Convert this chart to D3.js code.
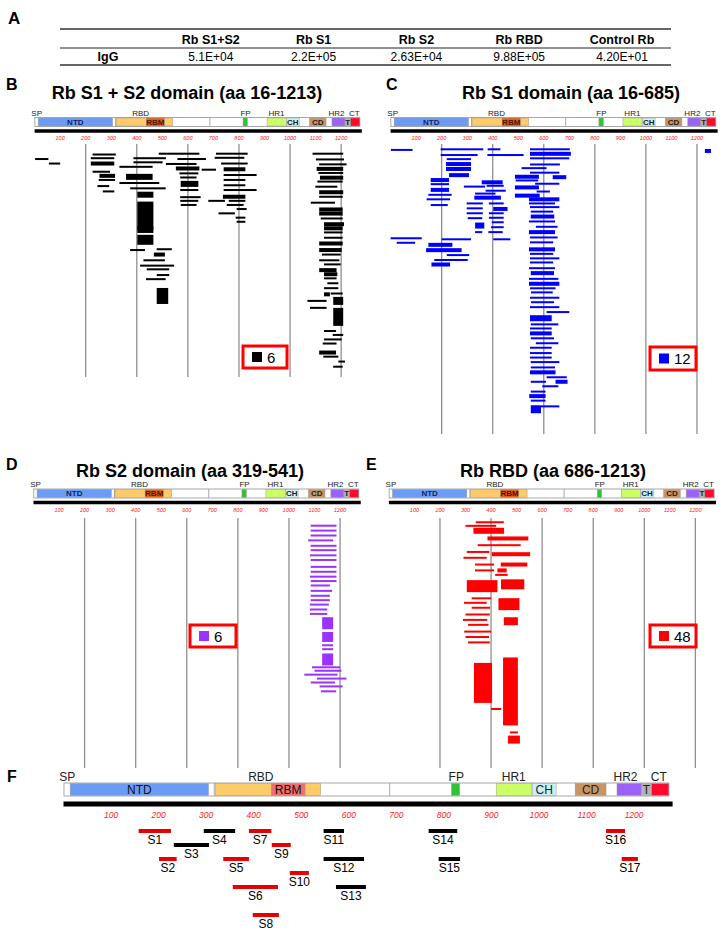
<!DOCTYPE html>
<html><head><meta charset="utf-8">
<script src="https://cdn.jsdelivr.net/npm/d3@7"></script>
<style>body{margin:0;background:#fff}svg{display:block;font-family:"Liberation Sans",Arial,Helvetica,sans-serif}</style>
</head><body><svg id="c" width="721" height="931"></svg>
<script>
// ---------------- DATA ----------------
const tableCols = ["Rb S1+S2", "Rb S1", "Rb S2", "Rb RBD", "Control Rb"];
const tableRowLabel = "IgG";
const tableValues = ["5.1E+04", "2.2E+05", "2.63E+04", "9.88E+05", "4.20E+01"];

const proteinLength = 1273;
const domainNames = ["NTD", "RBD", "RBM", "FP", "HR1", "CH", "CD", "HR2", "T", "CT"];
const domainStart = [14, 319, 437, 816, 910, 986, 1076, 1164, 1215, 1237];
const domainEnd   = [305, 541, 508, 833, 985, 1036, 1141, 1215, 1237, 1273];
const domainInnerText = ["NTD", "", "RBM", "", "", "CH", "CD", "", "T", ""];
const topLabels = ["SP", "RBD", "FP", "HR1", "HR2", "CT"];
const topLabelAa = [8, 415, 826, 947, 1182, 1252];
const tickValues = [100, 200, 300, 400, 500, 600, 700, 800, 900, 1000, 1100, 1200];
const gridValues = [200, 400, 600, 800, 1000, 1200];

const panelTitles = ["Rb S1 + S2 domain (aa 16-1213)", "Rb S1 domain (aa 16-685)", "Rb S2 domain (aa 319-541)", "Rb RBD (aa 686-1213)"];
const legendCounts = [6, 12, 6, 48];

// peptides: [start aa, end aa, track, stacked count]
const pepS1S2 = [
  [2,54,1.3,1],[56,100,2.4,1],
  [227,318,0.2,1],[220,312,1.1,1],[220,312,2.4,2],[227,295,4.4,1],[254,315,5.4,2],[251,315,6.4,1],[246,292,7.9,1],[267,312,9.2,1],
  [387,514,1.1,1],[387,501,2.1,1],[332,462,3.2,1],[358,462,5.65,3],[332,488,7.15,1],[374,513,8.45,1],[402,465,10,3],[402,465,15.1,14],[402,465,18.6,3],[402,465,21,5],
  [374,432,23.5,1],[478,537,23.3,1],[467,510,24.6,2],[426,510,26,1],[413,546,27.3,1],[439,527,28.2,1],[478,527,29.6,1],[436,513,30.6,1],[478,523,34.7,8],
  [486,645,0,1],[559,671,1.3,1],[514,634,2.5,1],[553,645,3.6,2],[654,710,3.9,1],[567,641,4.8,1],[570,634,5.8,1],[572,641,7.36,3],[570,641,8.86,1],[570,650,10.6,1],[570,641,11.5,1],[572,634,12.5,1],
  [710,834,0,1],[705,821,1,1],[730,834,2.4,1],[740,825,3.8,2],[740,869,5.2,1],[740,825,6.4,1],[740,825,7.7,1],[740,869,8.86,1],[737,825,10.5,2],[680,745,11.5,1],[760,825,11.5,1],[752,818,12.5,1],[791,830,13.5,1],[720,784,14.55,1],[787,825,15.6,1],[791,825,16.6,1],
  [1088,1208,0,1],[1101,1211,1.4,1],[1114,1221,2.6,1],[1104,1208,3.7,2],[1111,1208,4.7,1],[1117,1208,5.85,2],[1107,1206,6.8,1],[1099,1185,8.05,1],[1114,1208,9.4,2],[1114,1206,10.5,1],[1081,1176,11.95,1],[1114,1206,13.6,2],[1114,1206,14.6,2],[1120,1206,15.8,1],[1133,1211,17.2,2],[1133,1206,18.2,2],[1133,1206,19.2,1],[1133,1206,20.5,1],[1114,1206,21.9,2],
  [1114,1202,23.5,2],[1125,1198,24.6,1],[1114,1193,26,1],[1133,1198,27,1],[1114,1182,28.4,2],[1133,1185,29.4,2],[1133,1182,30.4,1],[1146,1189,31.6,1],[1133,1189,32.8,1],[1133,1156,34.3,2],[1159,1206,34.1,1],[1169,1208,35.9,4],[1068,1143,35.9,1],[1078,1143,37.6,1],[1169,1208,39.8,9],[1133,1180,43.25,1],[1167,1208,44.2,1],[1133,1202,45.3,1],[1128,1182,46.3,1],[1114,1180,48.5,2],[1130,1189,49.5,1],[1189,1215,50.7,1],[1169,1206,51.95,1]
];
const pepS1 = [
  [1,86,0.15,1],
  [196,363,0,1],[196,341,1.4,1],[220,315,2.4,1],[217,315,3.6,2],[217,315,4.8,2],[229,307,6.3,2],
  [380,430,0,1],[379,521,1.4,1],
  [546,702,0,1],[546,706,1.1,2],[546,700,2.2,1],[546,663,3.7,1],[513,611,4.6,1],[546,661,5.7,1],[487,581,6.7,2],[635,688,6.8,2],[490,578,7.6,1],[566,661,8.4,1],[487,581,9.3,2],[572,624,10.3,1],[487,584,11.3,2],[542,661,12.2,2],[542,644,13.2,1],[546,661,14.1,1],[549,637,15.2,1],[549,641,16.4,2],[542,644,17.6,1],[569,654,18.9,1],[542,644,20.2,2],[546,654,21.5,1],[546,637,22.7,1],[542,644,24.4,2],[546,637,25.5,1],[546,661,26.6,1],[546,637,27.6,1],
  [157,229,7.5,2],[157,229,8.5,1],[157,229,9.9,2],[148,239,11.1,1],[141,233,12.2,1],[157,224,13.6,1],[0,122,21.7,1],[24,96,22.8,1],[200,315,21.95,1],[148,242,23.3,2],[139,278,24.6,2],[220,308,25.8,1],[171,302,27,1],[160,233,28.1,2],
  [357,439,8.05,2],[287,370,9.1,1],[376,443,8.9,1],[372,451,10.1,1],[331,411,10.8,1],[328,432,11.8,2],[298,361,13.2,1],[385,443,13.2,1],[298,361,14.4,1],[402,458,14.55,2],[298,361,15.6,1],[385,443,15.6,1],[302,359,16.8,1],[385,443,16.7,1],[396,443,17.8,1],[331,367,18.6,3],[393,443,19,1],[331,359,20.2,1],[383,439,20.2,1],[402,469,21.95,1],
  [1231,1255,0.4,2],
  [542,644,29,1],[549,640,30.2,2],[542,657,31.6,1],[542,661,32.8,2],[546,646,33.9,1],[550,635,34.9,1],[546,661,36.2,1],[550,640,37.3,1],[546,661,38.5,1],[611,700,39.7,1],[546,631,41.2,3],[549,657,42.7,1],[546,631,43.7,1],[546,631,44.9,2],[549,640,46.1,1],[569,657,47.3,1],[546,631,48.4,1],[546,631,49.7,1],[546,631,50.8,1],[549,661,51.9,1],[549,644,53.2,1],[546,646,54.4,2],[611,690,55.6,1],[549,609,56.7,1],[646,693,56.7,2],[594,657,57.8,1],[549,607,59.1,1],[543,607,60.2,2],[549,607,61.3,1],[549,589,63.4,4],[589,661,62.7,1]
];
const pepS2 = [
  [1085,1186,0,1],[1085,1186,1,1],[1085,1186,2,1],[1075,1173,3,1],[1085,1186,4.1,1],[1085,1186,5,1],[1082,1186,6.05,1],[1085,1186,7,1],[1085,1186,8.4,1],[1085,1186,9.4,1],[1082,1186,10.4,1],[1085,1186,11.3,1],[1085,1160,12.2,1],[1085,1169,13.3,1],[1085,1160,14.3,1],[1085,1160,15.2,1],[1082,1156,16.1,1],[1082,1150,17.1,1],[1082,1150,18,1],
  [1130,1173,19.9,6],[1130,1173,22.7,5],[1130,1173,24.4,1],[1130,1173,25.2,1],[1130,1173,27.3,6],
  [1090,1200,28.9,1],[1100,1205,29.6,1],[1060,1190,30.4,1],[1110,1225,31.2,1],[1085,1180,32,1],[1120,1210,32.8,1],[1125,1185,33.8,1]
];
const pepRBD = [
  [340,450,0.5,1],[300,420,1.3,1],[331,451,2.4,3],[386,546,4.1,2],[348,516,5.6,1],[305,393,7.1,1],[403,553,7.6,2],[292,383,8.4,1],
  [337,412,9.9,1],[438,542,9.9,2],[337,412,11.2,1],[425,461,11.2,2],[416,465,12.2,1],[305,425,14.7,6],[439,530,14.3,5],
  [324,400,17.4,1],[294,383,18.4,1],[324,396,19.5,1],[429,511,18.7,6],
  [300,395,21,1],[290,385,22.2,1],[310,390,23.3,1],[450,505,22.5,4],[295,400,24.8,1],[300,392,26,1],[310,395,27.2,1],
  [333,404,36.2,20],[447,505,38.1,34],[400,440,42,1],[474,505,47.2,1],[466,513,48.8,4]
];

// Panel F segments
const segNames = ["S1","S2","S3","S4","S5","S6","S7","S8","S9","S10","S11","S12","S13","S14","S15","S16","S17"];
const segStart = [158,201,232,295,336,356,390,398,438,476,547,547,573,768,789,1141,1174];
const segEnd   = [226,238,306,361,390,451,437,453,478,516,590,632,636,828,834,1181,1208];
const segRow   = [0,2,1,0,2,4,0,6,1,3,0,2,4,0,2,0,2];
const segGroup = ["red","red","black","black","red","red","red","red","red","red","black","black","black","black","black","red","red"];

// ---------------- DRAWING ----------------
const svg = d3.select("#c");
const domainFill = {NTD:"#6b9cf5", RBD:"#fecb6b", RBM:"#e9661c", FP:"#2fc42f", HR1:"#ccff66", CH:"#c9f1f5", CD:"#c99565", HR2:"#9a62f7", T:"#b3b3b3", CT:"#ff0a2e"};

// Panel A table
(function(){
  const g = svg.append("g");
  g.append("text").attr("x",8).attr("y",24).attr("font-size",17).attr("font-weight","bold").text("A");
  const colX = d3.scalePoint().domain(["label"].concat(tableCols)).range([108, 622]);
  g.append("line").attr("x1",60).attr("x2",671).attr("y1",29).attr("y2",29).attr("stroke","#666").attr("stroke-width",2);
  g.append("line").attr("x1",60).attr("x2",671).attr("y1",48).attr("y2",48).attr("stroke","#222").attr("stroke-width",1);
  g.append("line").attr("x1",60).attr("x2",671).attr("y1",65).attr("y2",65).attr("stroke","#666").attr("stroke-width",2);
  g.selectAll("text.h").data(tableCols).join("text").attr("class","h")
    .attr("x",d=>colX(d)).attr("y",44).attr("text-anchor","middle").attr("font-size",12.5).attr("font-weight","bold").text(d=>d);
  g.append("text").attr("x",colX("label")).attr("y",61).attr("text-anchor","middle").attr("font-size",12.5).attr("font-weight","bold").text(tableRowLabel);
  g.selectAll("text.v").data(tableValues).join("text").attr("class","v")
    .attr("x",(d,i)=>colX(tableCols[i])).attr("y",61).attr("text-anchor","middle").attr("font-size",12).text(d=>d);
})();

function drawProtein(g, x, y, h, o){
  const pg = g.append("g");
  pg.append("rect").attr("x",x(1)).attr("y",y).attr("width",x(proteinLength)-x(1)).attr("height",h)
    .attr("fill","#fff").attr("stroke","#a8a8a8").attr("stroke-width",1);
  [317, 686].forEach(v=>pg.append("line").attr("x1",x(v)).attr("x2",x(v)).attr("y1",y).attr("y2",y+h).attr("stroke","#a8a8a8"));
  domainNames.forEach((n,i)=>{
    pg.append("rect").attr("x",x(domainStart[i])).attr("y",y+0.5).attr("width",x(domainEnd[i])-x(domainStart[i])).attr("height",h-1)
      .attr("fill", n==="RBM" ? o.rbm : domainFill[n]).attr("stroke","#9a9a9a").attr("stroke-width",0.5);
  });
  domainNames.forEach((n,i)=>{
    if(!domainInnerText[i]) return;
    pg.append("text").attr("x",(x(domainStart[i])+x(domainEnd[i]))/2).attr("y",y+h/2+o.inner*0.36)
      .attr("text-anchor","middle").attr("font-size",o.inner).attr("font-weight",o.innerWeight)
      .attr("fill", n==="NTD"? o.ntdText : (n==="RBM"? o.rbmText : "#222")).text(domainInnerText[i]);
  });
  topLabels.forEach((t,i)=>{
    pg.append("text").attr("x",x(topLabelAa[i])).attr("y",y-2).attr("text-anchor","middle")
      .attr("font-size",o.top).attr("fill","#222").text(t);
  });
  pg.append("line").attr("x1",x(0)).attr("x2",x(proteinLength+8)).attr("y1",o.lineY).attr("y2",o.lineY)
    .attr("stroke","#000").attr("stroke-width",o.lineW);
  pg.selectAll("text.tk").data(tickValues).join("text").attr("class","tk")
    .attr("x",d=>x(d)).attr("y",o.tickY).attr("text-anchor","middle").attr("font-size",o.tick)
    .attr("font-style","italic").attr("fill","#ff1a1a").text(d=>d);
}

const panels = [
  {letter:"B", lx:6, ly:90, title:panelTitles[0], tx:187, ty:99, r:[34.6,359.8], barY:117.5, lineY:131, tickY:140, g0:144, g1:377, t0:153.7, step:4.1, unit:2.0, data:pepS1S2, color:"#000000", leg:[243,346,44,22], count:legendCounts[0]},
  {letter:"C", lx:386, ly:90, title:panelTitles[1], tx:571, ty:99, r:[390.6,715.6], barY:117.5, lineY:131, tickY:140, g0:144, g1:434, t0:149.3, step:4.1, unit:2.0, data:pepS1, color:"#0000ff", leg:[650,347,46,23], count:legendCounts[1]},
  {letter:"D", lx:6, ly:470, title:panelTitles[2], tx:190, ty:477, r:[33.5,358.7], barY:489, lineY:502.5, tickY:511.5, g0:518, g1:768, t0:525.7, step:4.9, unit:2.0, data:pepS2, color:"#9933ff", leg:[190,625,46,22], count:legendCounts[2]},
  {letter:"E", lx:366, ly:470, title:panelTitles[3], tx:553, ty:477, r:[388.9,714.0], barY:489, lineY:502.5, tickY:511.5, g0:518, g1:768, t0:520, step:4.5, unit:2.0, data:pepRBD, color:"#ff0000", leg:[650,625,46,22], count:legendCounts[3]}
];

panels.forEach(p=>{
  const g = svg.append("g");
  const x = d3.scaleLinear().domain([0, proteinLength]).range(p.r);
  g.append("text").attr("x",p.lx).attr("y",p.ly).attr("font-size",16).attr("font-weight","bold").text(p.letter);
  g.append("text").attr("x",p.tx).attr("y",p.ty).attr("text-anchor","middle").attr("font-size",18).attr("font-weight","bold").text(p.title);
  drawProtein(g, x, p.barY, 9, {rbm:"#e8600a", rbmText:"#4a1500", ntdText:"#0d1f66", inner:8, innerWeight:"bold", top:8, lineY:p.lineY, lineW:3.5, tickY:p.tickY, tick:5.5});
  g.selectAll("line.grid").data(gridValues).join("line").attr("class","grid")
    .attr("x1",d=>x(d)).attr("x2",d=>x(d)).attr("y1",p.g0).attr("y2",p.g1)
    .attr("stroke","#8f8f8f").attr("stroke-width",1.3);
  const y = d3.scaleLinear().domain([0,1]).range([p.t0, p.t0+p.step]);
  g.selectAll("rect.pep").data(p.data).join("rect").attr("class","pep")
    .attr("x",d=>x(d[0])).attr("width",d=>x(d[1])-x(d[0]))
    .attr("y",d=>y(d[2]) - d[3]*p.unit/2).attr("height",d=>d[3]*p.unit)
    .attr("fill",p.color);
  const [lx,ly,lw,lh] = p.leg;
  g.append("rect").attr("x",lx).attr("y",ly).attr("width",lw).attr("height",lh).attr("fill","#fff").attr("stroke","#ff0000").attr("stroke-width",3);
  g.append("rect").attr("x",lx+9).attr("y",ly+lh/2-5).attr("width",10).attr("height",10).attr("fill",p.color);
  g.append("text").attr("x",lx+24).attr("y",ly+lh/2+5.5).attr("font-size",15).text(p.count);
});

// Panel F
(function(){
  const g = svg.append("g");
  const x = d3.scaleLinear().domain([0, proteinLength]).range([63.5, 63.5+0.4755*proteinLength]);
  g.append("text").attr("x",7).attr("y",782).attr("font-size",16).attr("font-weight","bold").text("F");
  drawProtein(g, x, 783, 13, {rbm:"#f26d6d", rbmText:"#111", ntdText:"#111", inner:12, innerWeight:"normal", top:12, lineY:804, lineW:5, tickY:818, tick:8.5});
  const y = d3.scaleLinear().domain([0,1]).range([831, 845]);
  const col = d3.scaleOrdinal().domain(["red","black"]).range(["#e60000","#000000"]);
  segNames.forEach((n,i)=>{
    g.append("rect").attr("x",x(segStart[i])).attr("y",y(segRow[i])-2).attr("width",x(segEnd[i])-x(segStart[i])).attr("height",4).attr("fill",col(segGroup[i]));
    g.append("text").attr("x",(x(segStart[i])+x(segEnd[i]))/2).attr("y",y(segRow[i])+13).attr("text-anchor","middle").attr("font-size",12).text(n);
  });
})();
</script></body></html>
